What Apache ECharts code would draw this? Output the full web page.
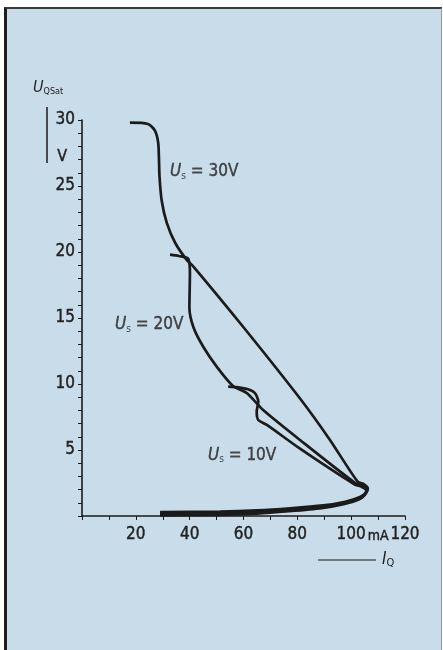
<!DOCTYPE html>
<html>
<head>
<meta charset="utf-8">
<script src="https://cdn.jsdelivr.net/npm/echarts@6/dist/echarts.min.js"></script>
<style>
  html, body { margin: 0; padding: 0; background: #ffffff; }
  #panel { position: absolute; left: 4px; top: 7px; width: 434px; height: 641px;
           background: #c9dcea; border-left: 3px solid #1e1e1e; border-top: 2px solid #3a3a3a;
           border-right: 1px solid #8e9aa3; }
  #chart { position: absolute; left: 0; top: 0; width: 443px; height: 650px; }
</style>
</head>
<body>
<div id="panel"></div>
<div id="chart"></div>
<script>
// ---- data (I_Q in mA, U_QSat in V) ----
const us30I = [17.8, 24.5, 27.1, 28.3, 28.6, 28.8, 29.6, 31.5, 34.6, 38.9, 41.4, 60, 81, 92, 102.4, 104.8, 106.2, 105.7, 103.3, 97.8, 89.6, 77.3, 65, 51.3, 29];
const us30U = [29.8, 29.7, 29.2, 28.3, 27.0, 25.7, 23.9, 22.2, 20.7, 19.4, 18.9, 14.3, 8.9, 5.8, 2.6, 2.4, 2.1, 1.8, 1.44, 1.08, 0.8, 0.58, 0.42, 0.33, 0.3];

const us20I = [32.7, 36, 39.4, 40.1, 40.0, 39.9, 41.4, 45.1, 50.1, 56.1, 61.3, 67.3, 81, 101.5, 104.2, 105.8, 105.3, 103, 97.5, 89.3, 77, 65, 51, 29];
const us20U = [19.8, 19.7, 19.5, 18.4, 17.1, 15.8, 14.3, 12.8, 11.3, 9.85, 9.3, 8.03, 5.76, 2.5, 2.3, 2.0, 1.7, 1.35, 0.98, 0.68, 0.45, 0.3, 0.2, 0.17];

const us10I = [54.3, 58, 61.7, 64.3, 65.5, 64.9, 65.5, 68.7, 81, 101.2, 104, 105.6, 105.1, 102.8, 97.2, 89, 76.7, 64.8, 50.8, 29];
const us10U = [9.8, 9.75, 9.6, 9.3, 8.66, 7.9, 7.27, 6.9, 5.1, 2.4, 2.2, 1.95, 1.6, 1.25, 0.9, 0.6, 0.36, 0.18, 0.08, 0.05];

const curveNames = ['30', '20', '10'];
const noteI = [32.7, 12.3, 46.8];
const noteU = [26.1, 14.5, 4.6];

const xTickLabels = [20, 40, 60, 80, 100, 120];
const xUnitAt = 110;      // position of "mA"
const yTickLabels = [5, 10, 15, 20, 25, 30];
const yUnitAt = 27;       // position of "V"

const FONT = "'DejaVu Sans Condensed', 'DejaVu Sans', sans-serif";
const INK = '#1b1b1b';
const TXT = '#222222';
const THICK = { textBorderColor: TXT, textBorderWidth: 0.4 };

function pairs(xs, ys) { return xs.map((x, i) => [x, ys[i]]); }

const curves = [pairs(us30I, us30U), pairs(us20I, us20U), pairs(us10I, us10U)];

const chart = echarts.init(document.getElementById('chart'), null, { renderer: 'canvas' });

const lineSeries = curves.map((d, k) => ({
  type: 'line', name: 'Us' + curveNames[k], data: d, showSymbol: false, symbol: 'none',
  smooth: 0.25, clip: false,
  lineStyle: { color: INK, width: 2.7 }, z: 3, silent: true
}));

const noteSeries = curveNames.map((n, k) => ({
  type: 'scatter', data: [[noteI[k], noteU[k]]], symbolSize: 0, silent: true,
  label: {
    show: true, position: 'right', distance: 0,
    formatter: '{u|U}{s|s}{t| = ' + n + 'V}',
    rich: {
      u: Object.assign({ fontFamily: FONT, fontStyle: 'italic', fontSize: 17, color: TXT }, THICK),
      s: { fontFamily: FONT, fontSize: 10, color: TXT, padding: [9, 0, 0, 0] },
      t: Object.assign({ fontFamily: FONT, fontSize: 17, color: TXT }, THICK)
    }
  }
}));

chart.setOption({
  backgroundColor: 'transparent',
  animation: false,
  grid: { left: 82, top: 120, right: 38, bottom: 134 },
  xAxis: {
    type: 'value', min: 0, max: 120, interval: 10,
    splitLine: { show: false },
    axisLine: { lineStyle: { color: INK, width: 1.6 } },
    axisTick: { length: 4, lineStyle: { color: INK, width: 1 } },
    axisLabel: Object.assign({
      margin: 10, color: TXT, fontFamily: FONT, fontSize: 17,
      formatter: v => v === xUnitAt ? '{m|mA}' : (xTickLabels.indexOf(v) >= 0 ? String(v) : ''),
      rich: { m: { fontFamily: FONT, fontSize: 14, color: TXT, padding: [3, 0, 0, 0] } }
    }, THICK)
  },
  yAxis: {
    type: 'value', min: 0, max: 30, interval: 1,
    splitLine: { show: false },
    axisLine: { lineStyle: { color: INK, width: 1.6 } },
    axisTick: { length: 4, lineStyle: { color: INK, width: 1 } },
    axisLabel: Object.assign({
      margin: 7, color: TXT, fontFamily: FONT, fontSize: 17,
      formatter: v => v === yUnitAt ? '{v|V}' : (yTickLabels.indexOf(v) >= 0 ? String(v) : ''),
      rich: { v: { fontFamily: FONT, fontSize: 16, color: TXT, padding: [0, 8, 6, 0] } }
    }, THICK)
  },
  graphic: [
    { type: 'text', left: 33, top: 80, style: {
        text: '{u|U}{s|QSat}', rich: {
          u: { fontFamily: FONT, fontStyle: 'italic', fontSize: 16, fill: TXT },
          s: { fontFamily: FONT, fontSize: 9, fill: TXT, padding: [7, 0, 0, 0] } } } },
    { type: 'line', shape: { x1: 47, y1: 107, x2: 47, y2: 163 }, style: { stroke: INK, lineWidth: 1.5 } },
    { type: 'line', shape: { x1: 318, y1: 560, x2: 376, y2: 560 }, style: { stroke: INK, lineWidth: 1.2 } },
    { type: 'text', left: 382, top: 551, style: {
        text: '{u|I}{s|Q}', rich: {
          u: { fontFamily: FONT, fontStyle: 'italic', fontSize: 17, fill: TXT },
          s: { fontFamily: FONT, fontSize: 11, fill: TXT, padding: [8, 0, 0, 0] } } } }
  ],
  series: lineSeries.concat(noteSeries)
});
</script>
</body>
</html>
